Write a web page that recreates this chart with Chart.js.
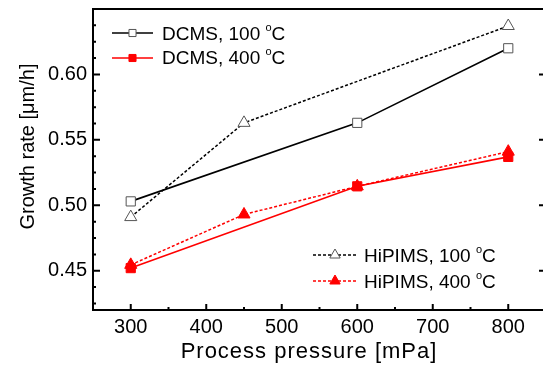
<!DOCTYPE html>
<html>
<head>
<meta charset="utf-8">
<script src="https://cdn.jsdelivr.net/npm/chart.js@4"></script>
<style>
  html, body { margin: 0; padding: 0; overflow: hidden; background: #fff; }
  #wrap { width: 560px; height: 366px; }
</style>
</head>
<body>
<div id="wrap"><canvas id="growth"></canvas></div>
<script>
// growth rate vs process pressure
const pressure = [300, 450, 600, 800];
const dcms100 = [0.503, null, 0.563, 0.620];
const dcms400 = [0.452, null, 0.5145, 0.537];
const hipims100 = [0.491, 0.563, null, 0.637];
const hipims400 = [0.4545, 0.493, 0.5145, 0.541];
const seriesNames = ['DCMS, 100', 'DCMS, 400', 'HiPIMS, 100', 'HiPIMS, 400'];
const xTicks = [300, 400, 500, 600, 700, 800];
const yTicks = [0.45, 0.50, 0.55, 0.60];
const xTitle = 'Process pressure [mPa]';
const yTitle = 'Growth rate [\u03bcm/h]';

const FONT = '"Liberation Sans", Arial, sans-serif';

function pts(vals) {
  return pressure.map((p, i) => ({x: p, y: vals[i]}));
}

function series(i, vals, color, dotted, style, filled) {
  return {
    label: seriesNames[i] + ' \u00b0C',
    data: pts(vals),
    borderColor: color,
    borderWidth: dotted ? 1.5 : 1.6,
    borderDash: dotted ? [3, 2] : [],
    pointStyle: style,
    pointRadius: style == 'rect' ? 6.5 : 7,
    pointBackgroundColor: filled ? color : '#fff',
    pointBorderColor: filled ? color : '#555',
    pointBorderWidth: 1,
    spanGaps: true,
    tension: 0
  };
}

// legend boxes, drawn by hand because there are two of them
const legendItems = [
  {ds: 0, x0: 112, x1: 153, y: 33, tx: 162, base: 39.5, r: 5},
  {ds: 1, x0: 112, x1: 153, y: 58, tx: 162, base: 64, r: 5},
  {ds: 2, x0: 313, x1: 357, y: 255, tx: 364, base: 261.5, r: 6},
  {ds: 3, x0: 313, x1: 357, y: 281, tx: 364, base: 287.5, r: 6}
];

function degText(ctx, name, x, base) {
  ctx.fillStyle = '#000';
  ctx.textAlign = 'left';
  ctx.textBaseline = 'alphabetic';
  ctx.font = '19px ' + FONT;
  ctx.fillText(name + ' ', x, base);
  let w = ctx.measureText(name + ' ').width;
  ctx.font = '11px ' + FONT;
  ctx.fillText('o', x + w, base - 9);
  w += ctx.measureText('o').width;
  ctx.font = '19px ' + FONT;
  ctx.fillText('C', x + w, base);
}

const legendPlugin = {
  id: 'twoLegends',
  afterDraw(chart) {
    const ctx = chart.ctx;
    legendItems.forEach(it => {
      const ds = chart.data.datasets[it.ds];
      ctx.save();
      ctx.strokeStyle = ds.borderColor;
      ctx.lineWidth = ds.borderWidth;
      ctx.setLineDash(ds.borderDash);
      ctx.beginPath();
      ctx.moveTo(it.x0, it.y);
      ctx.lineTo(it.x1, it.y);
      ctx.stroke();
      ctx.setLineDash([]);
      ctx.fillStyle = ds.pointBackgroundColor;
      ctx.strokeStyle = ds.pointBorderColor;
      ctx.lineWidth = 1;
      Chart.helpers.drawPoint(ctx, {pointStyle: ds.pointStyle, rotation: 0, radius: it.r, borderWidth: 1},
        (it.x0 + it.x1) / 2, it.y);
      degText(ctx, seriesNames[it.ds], it.tx, it.base);
      ctx.restore();
    });
  }
};

// frame with inward ticks (Origin style) and axis titles
const framePlugin = {
  id: 'frame',
  afterDraw(chart) {
    const ctx = chart.ctx;
    const a = chart.chartArea;
    const xs = chart.scales.x, ys = chart.scales.y;
    ctx.save();
    ctx.strokeStyle = '#000';
    ctx.lineWidth = 2;
    ctx.strokeRect(a.left, a.top, a.right - a.left, a.bottom - a.top);

    for (let v = 250; v <= 850; v += 50) {
      const px = xs.getPixelForValue(v);
      const len = v % 100 == 0 ? 6 : 3;
      ctx.beginPath();
      ctx.moveTo(px, a.bottom);
      ctx.lineTo(px, a.bottom - len);
      ctx.stroke();
    }
    for (let k = 0; k <= 18; k++) {
      const v = 0.425 + k * 0.0125;
      if (v > 0.65) break;
      const py = ys.getPixelForValue(v);
      const major = Math.abs(Math.round(v * 20) - v * 20) < 1e-6;
      const len = major ? 7 : 3;
      ctx.beginPath();
      ctx.moveTo(a.left, py);
      ctx.lineTo(a.left + len, py);
      ctx.moveTo(a.right, py);
      ctx.lineTo(a.right - len, py);
      ctx.stroke();
    }

    ctx.fillStyle = '#000';
    ctx.textAlign = 'center';
    ctx.textBaseline = 'alphabetic';
    ctx.font = '22px ' + FONT;
    ctx.letterSpacing = '1px';
    ctx.fillText(xTitle, 309, 358);
    ctx.letterSpacing = '0px';
    ctx.translate(33.5, 146.5);
    ctx.rotate(-Math.PI / 2);
    ctx.font = '20px ' + FONT;
    ctx.fillText(yTitle, 0, 0);
    ctx.restore();
  }
};

new Chart(document.getElementById('growth'), {
  type: 'line',
  data: {
    datasets: [
      series(0, dcms100, '#000', false, 'rect', false),
      series(1, dcms400, '#ff0000', false, 'rect', true),
      series(2, hipims100, '#000', true, 'triangle', false),
      series(3, hipims400, '#ff0000', true, 'triangle', true)
    ]
  },
  options: {
    responsive: true,
    maintainAspectRatio: false,
    animation: false,
    layout: { padding: { top: 9, right: 14, left: 0, bottom: 0 } },
    plugins: { legend: { display: false }, tooltip: { enabled: false } },
    scales: {
      x: {
        type: 'linear',
        min: 250,
        max: 850,
        grid: { display: false, drawTicks: false },
        border: { display: false },
        ticks: { color: '#000', font: { family: FONT, size: 20 }, padding: 5, autoSkip: false, maxRotation: 0 },
        afterBuildTicks: s => { s.ticks = xTicks.map(v => ({value: v})); },
        afterFit: s => { s.height = 56; s.paddingLeft = 0; s.paddingRight = 0; }
      },
      y: {
        min: 0.42,
        max: 0.65,
        grid: { display: false, drawTicks: false },
        border: { display: false },
        ticks: { color: '#000', font: { family: FONT, size: 20 }, padding: 6, autoSkip: false,
          callback: v => v.toFixed(2) },
        afterBuildTicks: s => { s.ticks = yTicks.map(v => ({value: v})); },
        afterFit: s => { s.width = 93; s.paddingTop = 0; s.paddingBottom = 0; }
      }
    }
  },
  plugins: [framePlugin, legendPlugin]
});
</script>
</body>
</html>
